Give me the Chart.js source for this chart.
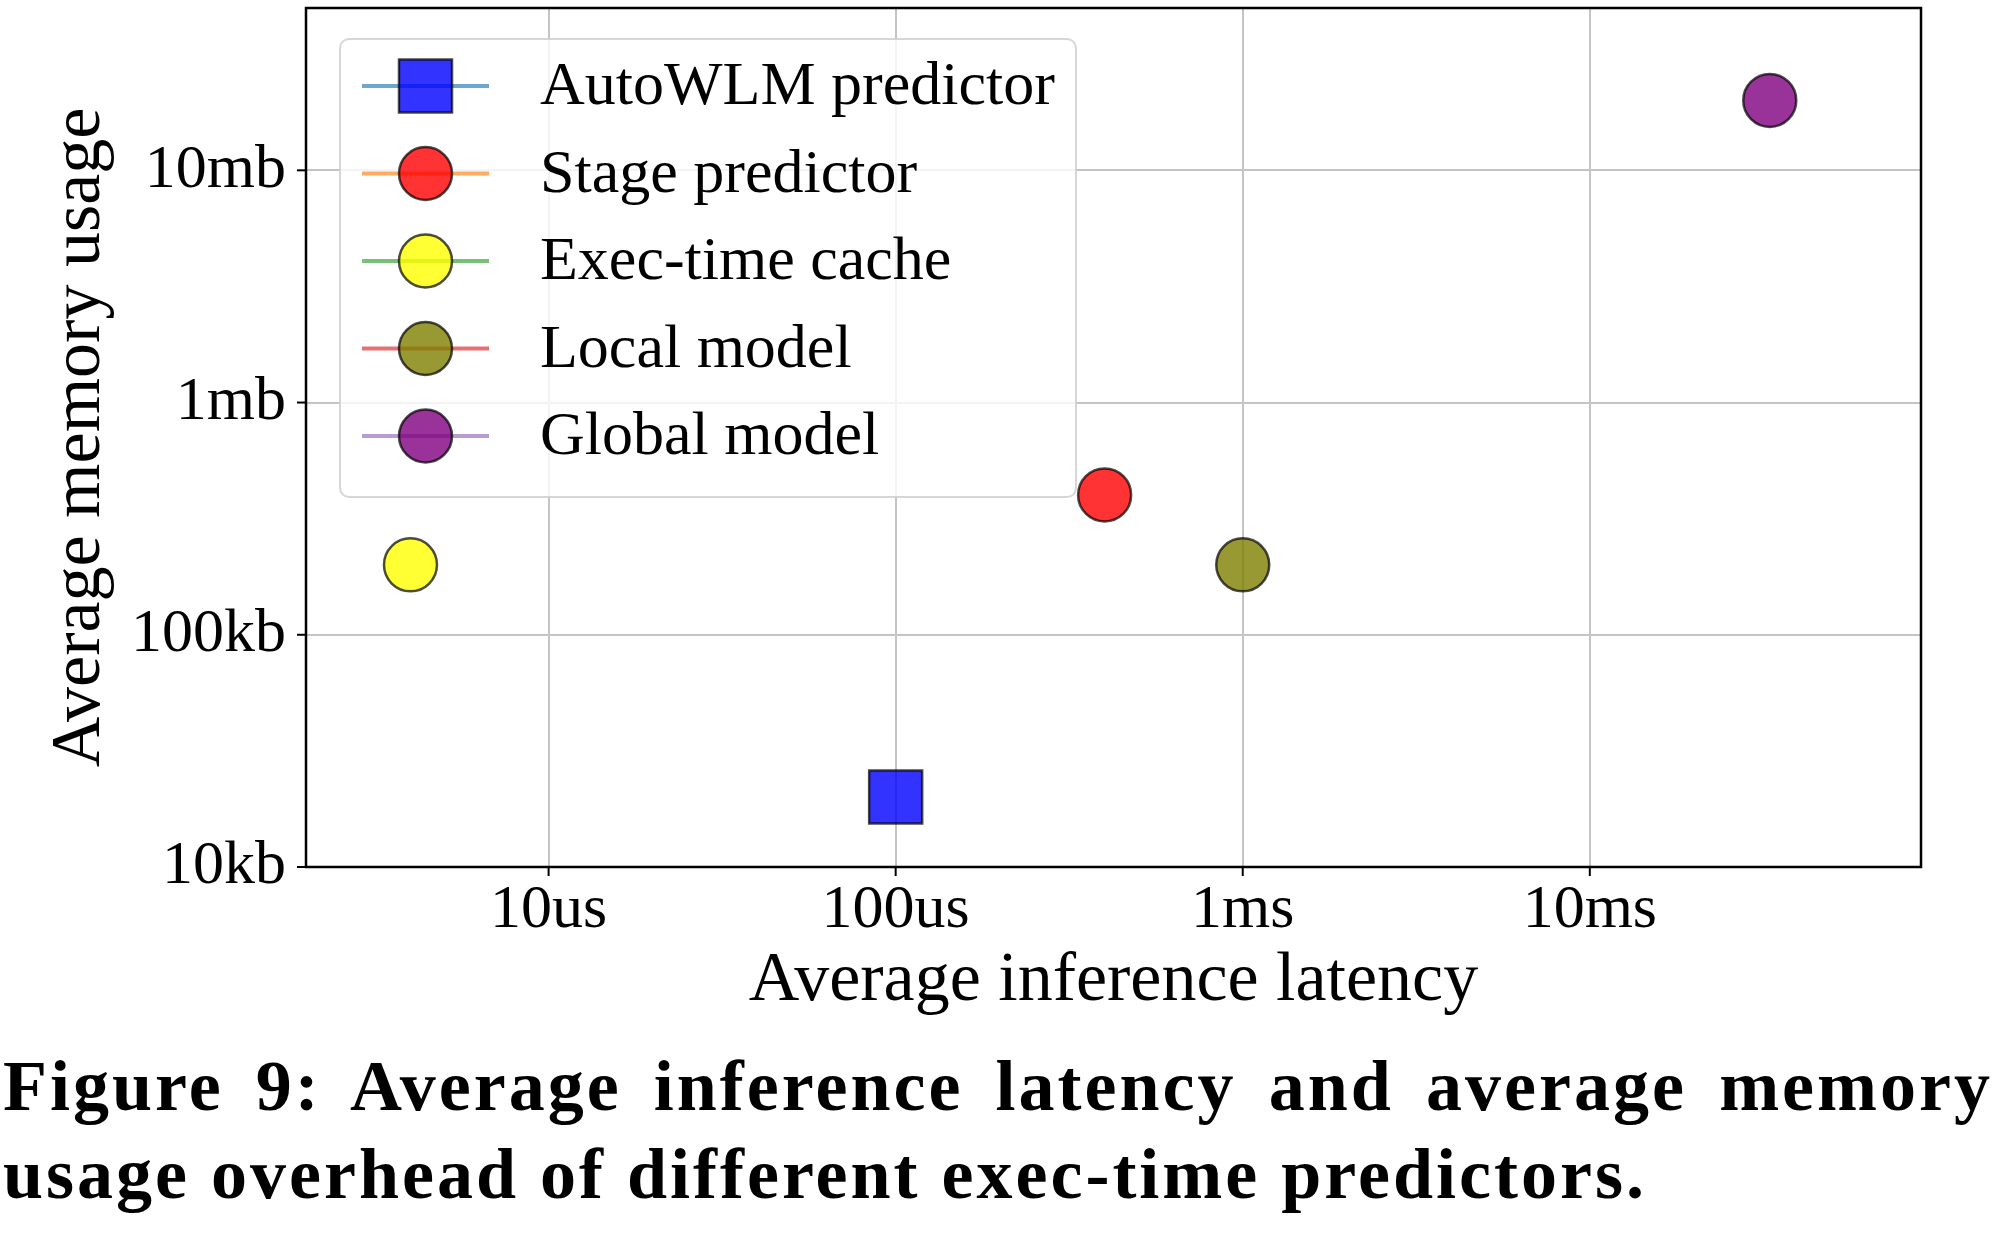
<!DOCTYPE html>
<html>
<head>
<meta charset="utf-8">
<script src="https://cdn.jsdelivr.net/npm/chart.js@4/dist/chart.umd.min.js"></script>
<style>
  html, body { margin: 0; padding: 0; background: #fff; }
  body { width: 2000px; height: 1235px; position: relative; overflow: hidden; }
  #wrap { position: absolute; left: 0; top: 0; width: 2000px; height: 1017px; }
  #caption {
    position: absolute; left: 3px; top: 1042px; width: 1990px;
    font-family: "Liberation Serif", "Times New Roman", serif; font-weight: bold;
    font-size: 72px; line-height: 88px; letter-spacing: 3px; color: #000;
  }
  #caption .l1 { text-align: justify; text-align-last: justify; white-space: nowrap; }
  #caption .l2 { text-align: left; white-space: nowrap; }
</style>
</head>
<body>
<div id="wrap"><canvas id="c" width="2000" height="1017"></canvas></div>
<div id="caption">
  <div class="l1">Figure 9: Average inference latency and average memory</div>
  <div class="l2">usage overhead of different exec-time predictors.</div>
</div>
<script>
// ---------------- data ----------------
const predictors = ['AutoWLM predictor', 'Stage predictor', 'Exec-time cache', 'Local model', 'Global model'];
const latencyUs = [100, 400, 4, 1000, 33000];       // average inference latency (microseconds)
const memoryKb = [20, 400, 200, 200, 20000];        // average memory usage (kilobytes)
const markerStyles = ['rect', 'circle', 'circle', 'circle', 'circle'];
const markerColors = ['rgba(0,0,255,0.8)', 'rgba(255,0,0,0.8)', 'rgba(255,255,0,0.8)', 'rgba(128,128,0,0.8)', 'rgba(128,0,128,0.8)'];
const legendLineColors = ['rgba(31,119,180,0.65)', 'rgba(255,127,14,0.65)', 'rgba(44,160,44,0.65)', 'rgba(214,39,40,0.65)', 'rgba(148,103,189,0.65)'];

const xTickValues = [10, 100, 1000, 10000];
const xTickLabels = ['10us', '100us', '1ms', '10ms'];
const yTickValues = [10, 100, 1000, 10000];
const yTickLabels = ['10kb', '100kb', '1mb', '10mb'];
const xRange = [2, 90000];
const yRange = [10, 50000];

const FONT = '"Liberation Serif", "Times New Roman", serif';

function logTicks(min, max) {
  const out = [];
  for (let e = Math.floor(Math.log10(min)); e <= Math.ceil(Math.log10(max)); e++) {
    for (let m = 1; m <= 9; m++) {
      const v = m * Math.pow(10, e);
      if (v >= min * 0.9999 && v <= max * 1.0001) out.push({ value: v, major: m === 1 });
    }
  }
  return out;
}

const datasets = predictors.map((name, i) => ({
  label: name,
  data: [{ x: latencyUs[i], y: memoryKb[i] }],
  pointStyle: markerStyles[i],
  pointRadius: markerStyles[i] === 'rect' ? 37.5 : 26.5,
  pointHoverRadius: markerStyles[i] === 'rect' ? 37.5 : 26.5,
  backgroundColor: markerColors[i],
  borderColor: 'rgba(0,0,0,0.7)',
  borderWidth: 2.5,
  showLine: false
}));

const framePlugin = {
  id: 'frame',
  afterDraw(chart) {
    const ctx = chart.ctx, a = chart.chartArea;
    const xs = chart.scales.x, ys = chart.scales.y;
    ctx.save();
    ctx.strokeStyle = '#000';
    ctx.lineWidth = 2;
    xs.ticks.forEach(t => {
      const p = xs.getPixelForValue(t.value);
      const len = xTickValues.includes(t.value) ? 9 : 5;
      ctx.beginPath(); ctx.moveTo(p, a.bottom); ctx.lineTo(p, a.bottom + len); ctx.stroke();
    });
    ys.ticks.forEach(t => {
      const p = ys.getPixelForValue(t.value);
      const len = yTickValues.includes(t.value) ? 9 : 5;
      ctx.beginPath(); ctx.moveTo(a.left, p); ctx.lineTo(a.left - len, p); ctx.stroke();
    });
    ctx.lineWidth = 2.5;
    ctx.strokeRect(a.left, a.top, a.right - a.left, a.bottom - a.top);

    // legend
    const lx = 340, ly = 39, lw = 736, lh = 458, r = 9;
    ctx.beginPath();
    ctx.moveTo(lx + r, ly);
    ctx.arcTo(lx + lw, ly, lx + lw, ly + lh, r);
    ctx.arcTo(lx + lw, ly + lh, lx, ly + lh, r);
    ctx.arcTo(lx, ly + lh, lx, ly, r);
    ctx.arcTo(lx, ly, lx + lw, ly, r);
    ctx.closePath();
    ctx.fillStyle = 'rgba(255,255,255,0.8)';
    ctx.fill();
    ctx.strokeStyle = 'rgba(204,204,204,0.8)';
    ctx.lineWidth = 2;
    ctx.stroke();

    chart.data.datasets.forEach((ds, i) => {
      const cy = 86 + i * 87.5;
      ctx.strokeStyle = legendLineColors[i];
      ctx.lineWidth = 4;
      ctx.beginPath(); ctx.moveTo(362, cy); ctx.lineTo(489, cy); ctx.stroke();
      ctx.fillStyle = ds.backgroundColor;
      ctx.strokeStyle = ds.borderColor;
      ctx.lineWidth = ds.borderWidth;
      ctx.beginPath();
      if (ds.pointStyle === 'rect') {
        const s = ds.pointRadius * Math.SQRT1_2;
        ctx.rect(425.5 - s, cy - s, 2 * s, 2 * s);
      } else {
        ctx.arc(425.5, cy, ds.pointRadius, 0, Math.PI * 2);
      }
      ctx.fill(); ctx.stroke();
      ctx.fillStyle = '#000';
      ctx.font = '62px ' + FONT;
      ctx.textBaseline = 'middle';
      ctx.textAlign = 'left';
      ctx.fillText(ds.label, 540, cy + 2);
    });
    ctx.restore();
  }
};

new Chart(document.getElementById('c'), {
  type: 'scatter',
  data: { datasets },
  options: {
    responsive: false,
    animation: false,
    events: [],
    layout: { autoPadding: false, padding: { top: 8, right: 79, left: 0, bottom: 0 } },
    plugins: { legend: { display: false }, tooltip: { enabled: false } },
    scales: {
      x: {
        type: 'logarithmic',
        min: xRange[0], max: xRange[1],
        afterBuildTicks: s => { s.ticks = logTicks(xRange[0], xRange[1]); },
        afterFit: s => { s.height = 150; s.paddingLeft = 0; s.paddingRight = 0; s.paddingTop = 0; s.paddingBottom = 0; },
        border: { display: false },
        grid: { color: '#c4c4c4', lineWidth: 2, drawTicks: false },
        ticks: {
          autoSkip: false, maxRotation: 0, minRotation: 0, padding: 13, color: '#000',
          font: { family: FONT, size: 62, lineHeight: 1 },
          callback: v => { const k = xTickValues.indexOf(v); return k >= 0 ? xTickLabels[k] : null; }
        },
        title: {
          display: true, text: 'Average inference latency', color: '#000',
          font: { family: FONT, size: 70, lineHeight: 1 }, padding: { top: 0, bottom: 0 }
        }
      },
      y: {
        type: 'logarithmic',
        min: yRange[0], max: yRange[1],
        afterBuildTicks: s => { s.ticks = logTicks(yRange[0], yRange[1]); },
        afterFit: s => { s.width = 306; s.paddingLeft = 0; s.paddingRight = 0; s.paddingTop = 0; s.paddingBottom = 0; },
        border: { display: false },
        grid: { color: '#c4c4c4', lineWidth: 2, drawTicks: false },
        ticks: {
          autoSkip: false, padding: 20, color: '#000',
          font: { family: FONT, size: 62, lineHeight: 1 },
          callback: v => { const k = yTickValues.indexOf(v); return k >= 0 ? yTickLabels[k] : null; }
        },
        title: {
          display: true, text: 'Average memory usage', color: '#000',
          font: { family: FONT, size: 70, lineHeight: 1 }, padding: { top: 46, bottom: 0 }
        }
      }
    }
  },
  plugins: [framePlugin]
});
</script>
</body>
</html>
